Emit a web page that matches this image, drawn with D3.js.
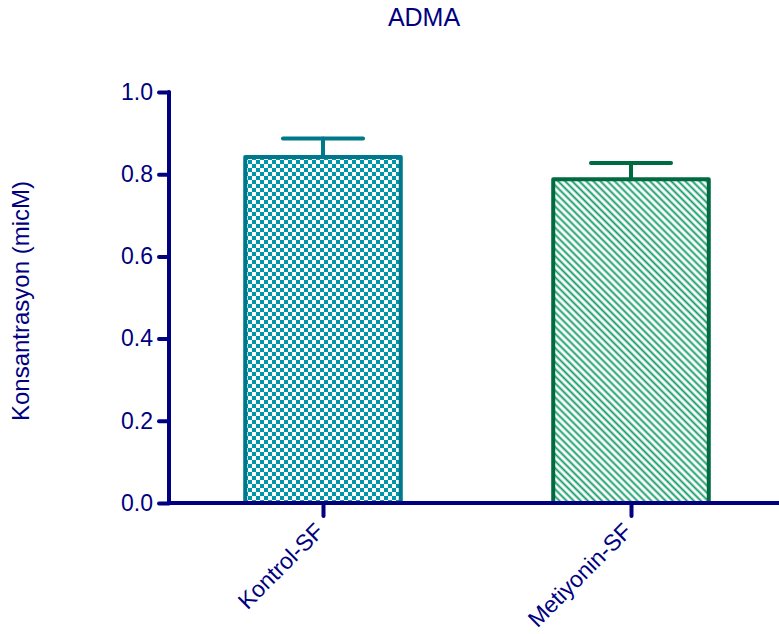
<!DOCTYPE html>
<html>
<head>
<meta charset="utf-8">
<script src="https://cdn.jsdelivr.net/npm/d3@7"></script>
<style>
  body { margin: 0; background: #fff; }
  text { font-family: "Liberation Sans", Arial, sans-serif; fill: #000080; }
</style>
</head>
<body>
<div id="chart"></div>
<script>
// chart values
var categories = ["Kontrol-SF", "Metiyonin-SF"];
var means = [0.842, 0.788];
var sems = [0.045, 0.039];
var yTicks = [0.0, 0.2, 0.4, 0.6, 0.8, 1.0];

var width = 779;
var height = 634;
var navy = "#000080";

var svg = d3.select("#chart")
  .append("svg")
    .attr("width", width)
    .attr("height", height);

// patterns for the bar fills
var defs = svg.append("defs");

var checker = defs.append("pattern")
    .attr("id", "checker")
    .attr("patternUnits", "userSpaceOnUse")
    .attr("width", 8)
    .attr("height", 8);
checker.append("rect").attr("width", 8).attr("height", 8).attr("fill", "#fff");
checker.append("rect").attr("width", 4).attr("height", 4).attr("fill", "#0096a8");
checker.append("rect").attr("x", 4).attr("y", 4).attr("width", 4).attr("height", 4).attr("fill", "#0096a8");

var hatch = defs.append("pattern")
    .attr("id", "hatch")
    .attr("patternUnits", "userSpaceOnUse")
    .attr("width", 5)
    .attr("height", 5)
    .attr("patternTransform", "rotate(-45)");
hatch.append("rect").attr("width", 5).attr("height", 5).attr("fill", "#fff");
hatch.append("line")
    .attr("x1", 1.5).attr("y1", 0).attr("x2", 1.5).attr("y2", 5)
    .attr("stroke", "#129a68")
    .attr("stroke-width", 1.9);

var fills = ["url(#checker)", "url(#hatch)"];
var strokes = ["#00788c", "#006a40"];

// scales
var x = d3.scalePoint()
    .domain(categories)
    .range([169, 785])
    .padding(0.5);
var barWidth = x.step() * 0.505;
var capWidth = x.step() * 0.26;

var y = d3.scaleLinear()
    .domain([0, 1])
    .range([503, 92]);

// bars
var bars = svg.append("g");
bars.selectAll("rect")
  .data(categories)
  .enter()
  .append("rect")
    .attr("x", function(d) { return x(d) - barWidth / 2; })
    .attr("y", function(d, i) { return y(means[i]); })
    .attr("width", barWidth)
    .attr("height", function(d, i) { return y(0) - y(means[i]); })
    .attr("fill", function(d, i) { return fills[i]; })
    .attr("stroke", function(d, i) { return strokes[i]; })
    .attr("stroke-width", 4)
    .attr("stroke-linejoin", "round");

// error bars (upper only)
var err = svg.append("g")
    .attr("stroke-width", 4)
    .attr("stroke-linecap", "round");
err.selectAll(".stem")
  .data(categories)
  .enter()
  .append("line")
    .attr("x1", function(d) { return x(d); })
    .attr("x2", function(d) { return x(d); })
    .attr("y1", function(d, i) { return y(means[i]); })
    .attr("y2", function(d, i) { return y(means[i] + sems[i]); })
    .attr("stroke", function(d, i) { return strokes[i]; });
err.selectAll(".cap")
  .data(categories)
  .enter()
  .append("line")
    .attr("x1", function(d) { return x(d) - capWidth / 2; })
    .attr("x2", function(d) { return x(d) + capWidth / 2; })
    .attr("y1", function(d, i) { return y(means[i] + sems[i]); })
    .attr("y2", function(d, i) { return y(means[i] + sems[i]); })
    .attr("stroke", function(d, i) { return strokes[i]; });

// y axis
var yAxis = svg.append("g")
    .attr("transform", "translate(169,0)")
    .call(d3.axisLeft(y).tickValues(yTicks).tickFormat(d3.format(".1f")).tickSize(10).tickPadding(6));
yAxis.select(".domain").remove();
yAxis.selectAll(".tick line")
    .attr("stroke", navy)
    .attr("stroke-width", 4)
    .attr("stroke-linecap", "round");
yAxis.selectAll(".tick text")
    .style("font-size", "23px")
    .attr("fill", navy);
svg.append("line")
    .attr("x1", 169).attr("x2", 169)
    .attr("y1", y(1)).attr("y2", y(0))
    .attr("stroke", navy)
    .attr("stroke-width", 4)
    .attr("stroke-linecap", "round");

// x axis
var xAxis = svg.append("g")
    .attr("transform", "translate(0," + y(0) + ")")
    .call(d3.axisBottom(x).tickSize(13).tickPadding(4));
xAxis.select(".domain").remove();
xAxis.selectAll(".tick line")
    .attr("stroke", navy)
    .attr("stroke-width", 4)
    .attr("stroke-linecap", "round");
xAxis.selectAll(".tick text")
    .style("font-size", "23px")
    .attr("fill", navy)
    .attr("text-anchor", "end")
    .attr("dy", "0.35em")
    .attr("transform", "translate(-4,24) rotate(-45)")
    .attr("y", 0);
svg.append("line")
    .attr("x1", 167).attr("x2", width)
    .attr("y1", y(0)).attr("y2", y(0))
    .attr("stroke", navy)
    .attr("stroke-width", 4);

// title and y label
svg.append("text")
    .attr("x", 424)
    .attr("y", 26)
    .attr("text-anchor", "middle")
    .style("font-size", "25px")
    .text("ADMA");

svg.append("text")
    .attr("transform", "translate(29,301) rotate(-90)")
    .attr("text-anchor", "middle")
    .style("font-size", "24px")
    .text("Konsantrasyon (micM)");
</script>
</body>
</html>
